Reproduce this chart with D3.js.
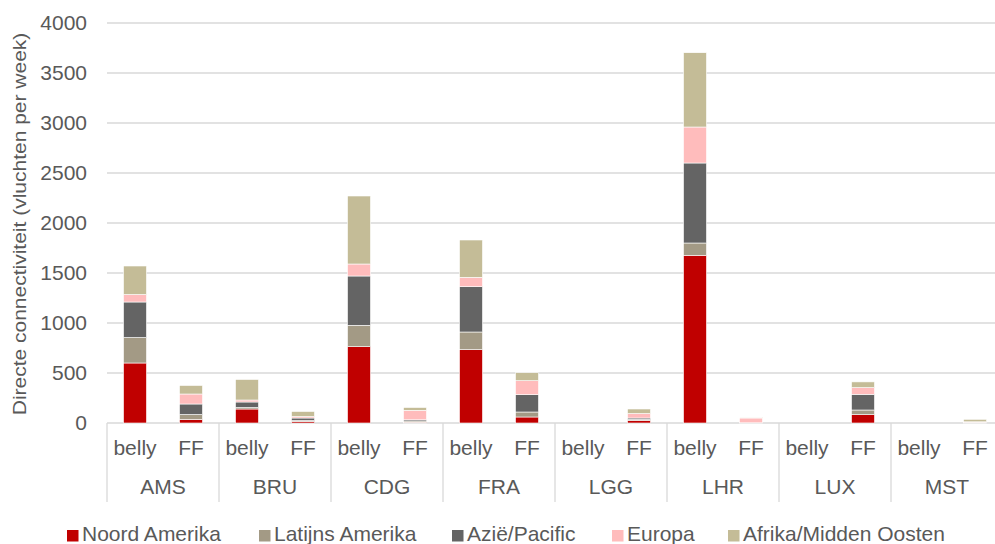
<!DOCTYPE html>
<html>
<head>
<meta charset="utf-8">
<script src="https://cdn.jsdelivr.net/npm/d3@7"></script>
<style>
  body { margin: 0; background: #fff; }
  svg text { font-family: "Liberation Sans", Arial, sans-serif; fill: #595959; }
</style>
</head>
<body>
<div class="canvas"></div>
<script>
// airports and bar types
const airports = ["AMS", "BRU", "CDG", "FRA", "LGG", "LHR", "LUX", "MST"]
const types = ["belly", "FF"]
const regions = ["Noord Amerika", "Latijns Amerika", "Azië/Pacific", "Europa", "Afrika/Midden Oosten"]
const colors = ["#C00000", "#A39A85", "#646464", "#FFBCBC", "#C4BC97"]
const yTicks = [0, 500, 1000, 1500, 2000, 2500, 3000, 3500, 4000]

// values per bar, order: AMS belly, AMS FF, BRU belly, BRU FF, ...
const noordAmerika   = [600, 35, 140, 15, 763, 8, 733, 60, 0, 25, 1677, 0, 0, 83, 0, 2]
const latijnsAmerika = [255, 50, 15, 10, 214, 12, 177, 50, 0, 10, 123, 0, 0, 47, 0, 2]
const aziePacific    = [355, 105, 55, 25, 493, 12, 453, 173, 0, 15, 800, 2, 0, 157, 0, 3]
const europa         = [75, 100, 20, 15, 120, 95, 94, 140, 0, 45, 360, 48, 0, 67, 0, 5]
const afrika         = [285, 85, 205, 50, 680, 28, 373, 80, 0, 45, 743, 7, 0, 57, 0, 25]

const series = [noordAmerika, latijnsAmerika, aziePacific, europa, afrika]

const width = 995
const height = 544
const marginLeft = 107
const plotRight = 1003
const plotTop = 23
const plotBottom = 423
const fontSize = "21px"

const svg = d3.select(".canvas").append("svg")
    .attr("width", width)
    .attr("height", height)

// build rows
const rows = []
airports.forEach((a, i) => {
    types.forEach((t, j) => {
        const row = { airport: a, type: t }
        regions.forEach((r, k) => { row[r] = series[k][i * 2 + j] })
        rows.push(row)
    })
})

const stacked = d3.stack().keys(regions)(rows)

const x0 = d3.scaleBand().domain(airports).range([marginLeft, plotRight])
const x1 = d3.scaleBand().domain(types).range([0, x0.bandwidth()])
const y = d3.scaleLinear().domain([0, 4000]).range([plotBottom, plotTop])
const barW = x1.bandwidth() * 0.41

// gridlines
svg.append("g")
    .selectAll("line")
    .data(yTicks)
    .enter()
    .append("line")
    .attr("x1", marginLeft)
    .attr("x2", plotRight)
    .attr("y1", d => y(d))
    .attr("y2", d => y(d))
    .attr("stroke", "#D9D9D9")
    .attr("stroke-width", 1.3)

// y axis labels
const yAxis = svg.append("g")
    .attr("transform", `translate(${marginLeft - 20},0)`)
    .call(d3.axisLeft(y).tickValues(yTicks).tickFormat(d3.format("d")).tickSize(0).tickPadding(0))
yAxis.select(".domain").remove()
yAxis.selectAll("text")
    .style("font-size", fontSize)
    .attr("fill", "#595959")

// bars
svg.append("g")
    .selectAll("g")
    .data(stacked)
    .enter()
    .append("g")
    .attr("fill", (d, i) => colors[i])
    .selectAll("rect")
    .data(d => d)
    .enter()
    .append("rect")
    .attr("x", d => x0(d.data.airport) + x1(d.data.type) + (x1.bandwidth() - barW) / 2)
    .attr("width", barW)
    .attr("y", d => y(d[1]))
    .attr("height", d => Math.max(0, y(d[0]) - y(d[1])))
    .attr("stroke", "#fff")
    .attr("stroke-width", 0.6)

// category separators
svg.append("g")
    .selectAll("line")
    .data(airports)
    .enter()
    .append("line")
    .attr("x1", d => x0(d))
    .attr("x2", d => x0(d))
    .attr("y1", plotBottom)
    .attr("y2", 502)
    .attr("stroke", "#D9D9D9")
    .attr("stroke-width", 1.3)

// belly / FF labels
svg.append("g")
    .selectAll("text")
    .data(rows)
    .enter()
    .append("text")
    .attr("x", d => x0(d.airport) + x1(d.type) + x1.bandwidth() / 2)
    .attr("y", 455)
    .attr("text-anchor", "middle")
    .style("font-size", fontSize)
    .text(d => d.type)

// airport labels
svg.append("g")
    .selectAll("text")
    .data(airports)
    .enter()
    .append("text")
    .attr("x", d => x0(d) + x0.bandwidth() / 2)
    .attr("y", 494)
    .attr("text-anchor", "middle")
    .style("font-size", fontSize)
    .text(d => d)

// y axis title
svg.append("text")
    .attr("transform", "translate(26,224) scale(0.88,1) rotate(-90)")
    .attr("text-anchor", "middle")
    .style("font-size", fontSize)
    .text("Directe connectiviteit (vluchten per week)")

// legend
const legendX = [67, 259, 452, 612, 728]
const legend = svg.append("g")
    .selectAll("g")
    .data(regions)
    .enter()
    .append("g")
    .attr("transform", (d, i) => `translate(${legendX[i]},530)`)
legend.append("rect")
    .attr("width", 11.5)
    .attr("height", 11.5)
    .attr("fill", (d, i) => colors[i])
legend.append("text")
    .attr("x", 15)
    .attr("y", 11)
    .style("font-size", fontSize)
    .text(d => d)
</script>
</body>
</html>
